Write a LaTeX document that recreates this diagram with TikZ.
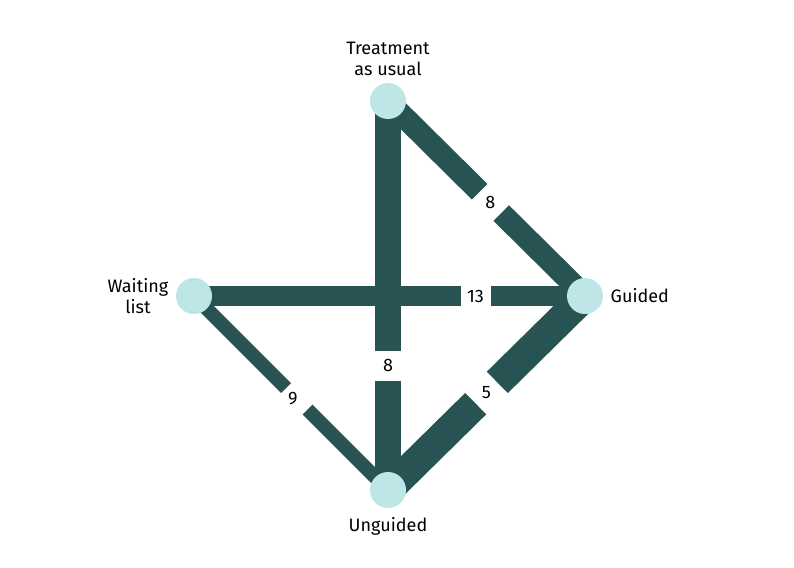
\documentclass[tikz,border=0pt]{standalone}
\usepackage{fontspec}
\setmainfont{Fira Sans}
\definecolor{edge}{HTML}{285353}
\definecolor{dot}{HTML}{BFE6E6}
\begin{document}
\begin{tikzpicture}[x=1pt,y=-1pt,
  pt/.style={circle,fill=dot,minimum size=36pt,inner sep=0},
  gap/.style={sloped,fill=white,inner sep=0,minimum width=30pt,minimum height=#1},
  lab/.style={font=\fontsize{18}{20}\selectfont,inner sep=0},
  txt/.style={font=\fontsize{18}{21}\selectfont,align=center},
  e/.style={draw=edge}]
\useasboundingbox (0,0) rectangle (794,567);
\coordinate (T) at (388,101);
\coordinate (W) at (194,296);
\coordinate (G) at (585,296);
\coordinate (U) at (388,490);
\draw[e,line width=20pt] (W) -- (G) node[gap=24pt,pos=0.72] {} node[lab,pos=0.72] {13};
\draw[e,line width=14pt] (W) -- (U) node[gap=18pt,pos=0.53] {} node[lab,pos=0.53,xshift=-4pt] {9};
\draw[e,line width=22pt] (T) -- (G) node[gap=26pt,pos=0.52] {} node[lab,pos=0.52] {8};
\draw[e,line width=30pt] (G) -- (U) node[gap=34pt,pos=0.5] {} node[lab,pos=0.5] {5};
\draw[e,line width=26pt] (T) -- (U) node[gap=30pt,pos=0.68] {} node[lab,pos=0.68] {8};
\node[pt] (t) at (T) {};
\node[pt] (w) at (W) {};
\node[pt] (g) at (G) {};
\node[pt] (u) at (U) {};
\node[txt,above=4pt] at (t.north) {Treatment\\as usual};
\node[txt,left=4pt] at (w.west) {Waiting\\list};
\node[txt,right=4pt] at (g.east) {Guided};
\node[txt,below=6pt] at (u.south) {Unguided};
\end{tikzpicture}
\end{document}
